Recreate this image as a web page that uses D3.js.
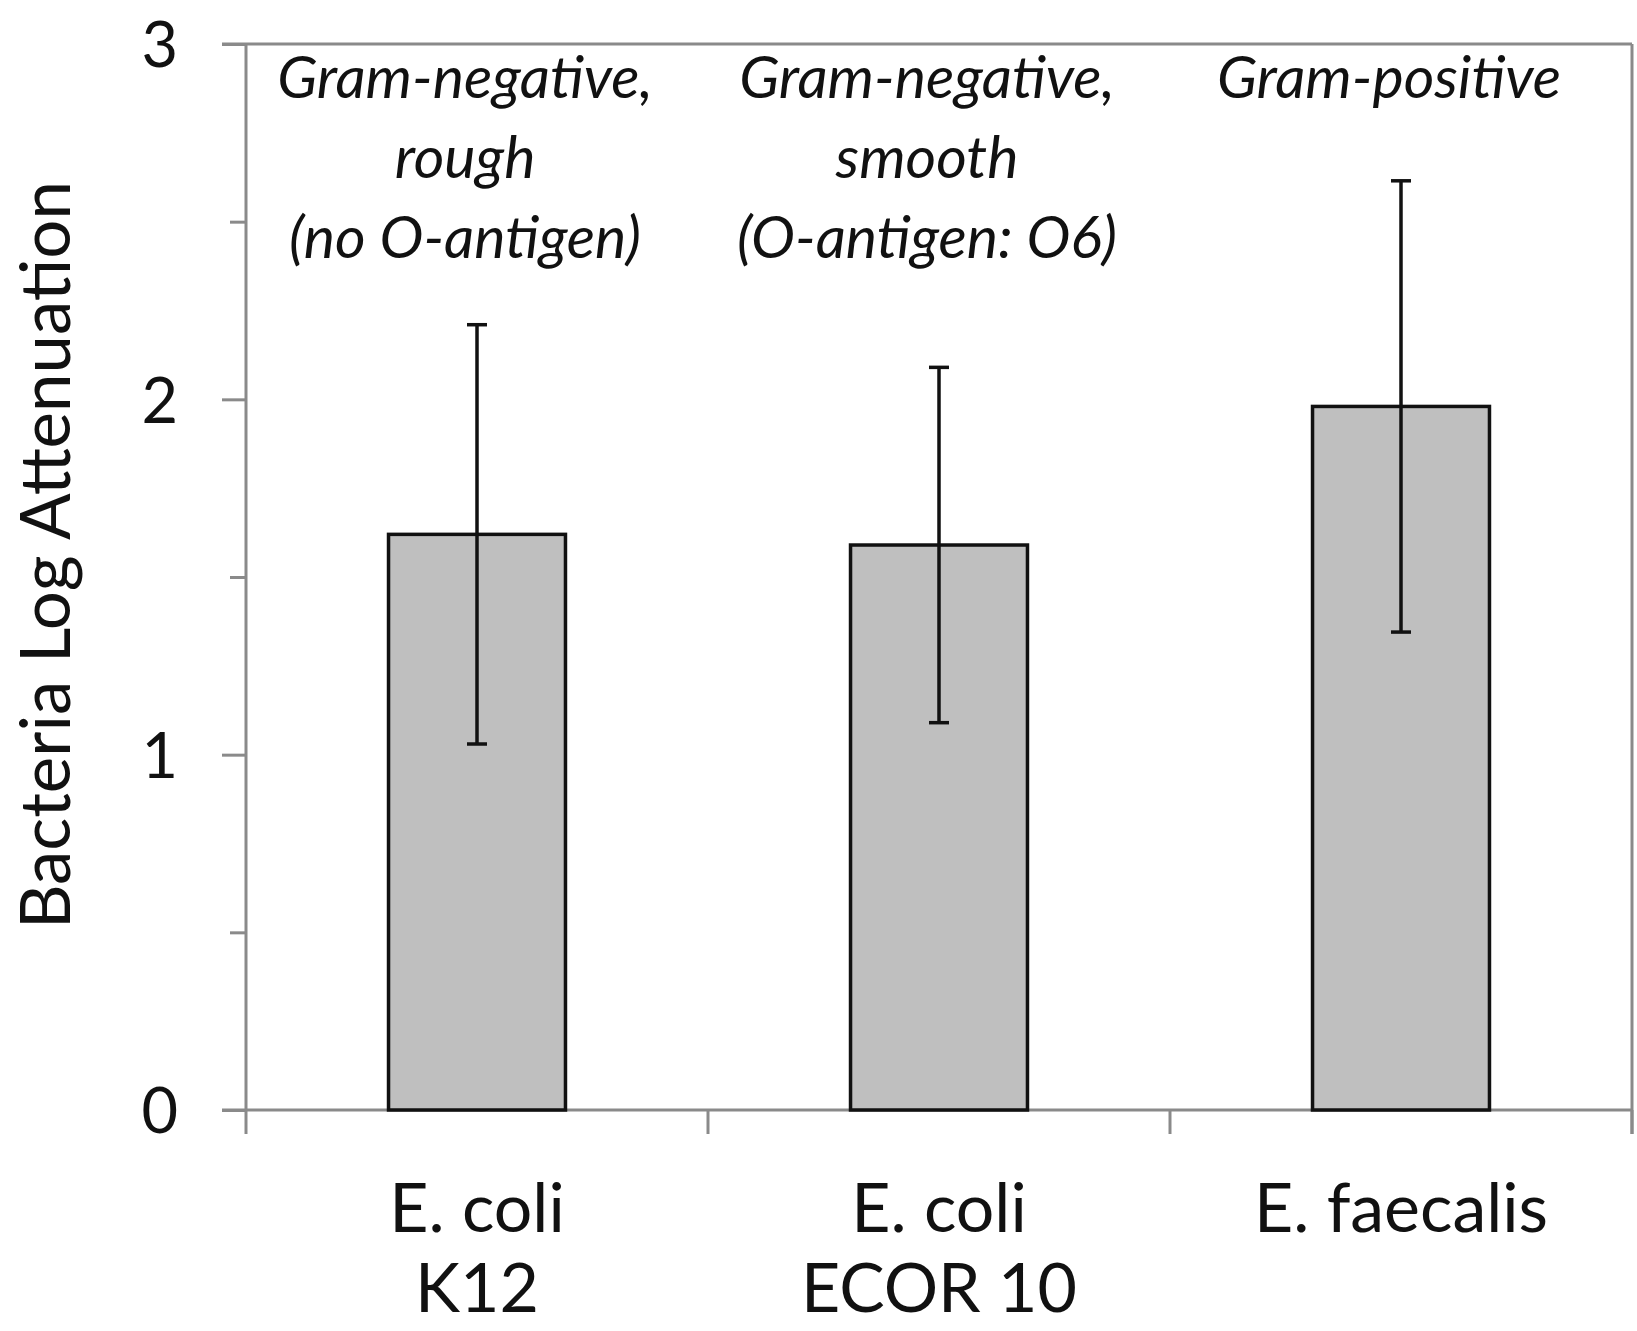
<!DOCTYPE html>
<html>
<head>
<meta charset="utf-8">
<script src="https://cdn.jsdelivr.net/npm/d3@7"></script>
<style>
  body { margin: 0; background: #fff; }
  svg text { font-family: Lato, "Open Sans", sans-serif; fill: #111; }
  .axis path, .axis line { stroke: #8a8a8a; stroke-width: 3; }
</style>
</head>
<body>
<div id="chart"></div>
<script>
// data
var categories = ['E. coli K12', 'E. coli ECOR 10', 'E. faecalis'];
var labelLines = [['E. coli', 'K12'], ['E. coli', 'ECOR 10'], ['E. faecalis']];
var means = [1.62, 1.59, 1.98];
var errors = [0.59, 0.50, 0.635];
var notes = [
  ['Gram-negative,', 'rough', '(no O-antigen)'],
  ['Gram-negative,', 'smooth', '(O-antigen: O6)'],
  ['Gram-positive']
];
var majorTicks = [0, 1, 2, 3];
var minorTicks = [0.5, 1.5, 2.5];

var W = 1637, H = 1331;
var margin = {top: 44, right: 5, bottom: 221, left: 246};
var width = W - margin.left - margin.right;
var height = H - margin.top - margin.bottom;

var svg = d3.select('#chart').append('svg')
  .attr('width', W)
  .attr('height', H);

var g = svg.append('g')
  .attr('transform', 'translate(' + margin.left + ',' + margin.top + ')');

var x = d3.scaleBand()
  .domain(categories)
  .range([0, width])
  .padding(0);

var y = d3.scaleLinear()
  .domain([0, 3])
  .range([height, 0]);

var barW = x.bandwidth() * 0.383;
function cx(d) { return x(d) + x.bandwidth() / 2; }

// frame (top and right)
g.append('line')
  .attr('x1', -24).attr('x2', width)
  .attr('y1', 0).attr('y2', 0)
  .attr('stroke', '#8a8a8a').attr('stroke-width', 3);
g.append('line')
  .attr('x1', width).attr('x2', width)
  .attr('y1', 0).attr('y2', height + 24)
  .attr('stroke', '#8a8a8a').attr('stroke-width', 3);

// y axis: minor ticks first, then major with labels
g.append('g')
  .attr('class', 'axis')
  .call(d3.axisLeft(y).tickValues(minorTicks).tickSize(16).tickFormat(''))
  .call(function(s) { s.select('.domain').remove(); });

var yAxis = g.append('g')
  .attr('class', 'axis')
  .call(d3.axisLeft(y).tickValues(majorTicks).tickSize(24).tickPadding(44)
    .tickFormat(d3.format('d')));
yAxis.select('.domain').attr('d', 'M0,0V' + height);
yAxis.selectAll('text')
  .style('font-size', '63px')
  .attr('dy', '0.36em');

// x axis with ticks at band edges
var xAxis = g.append('g')
  .attr('class', 'axis')
  .attr('transform', 'translate(0,' + height + ')');
xAxis.append('line')
  .attr('x1', -24).attr('x2', width)
  .attr('stroke', '#8a8a8a').attr('stroke-width', 3);
xAxis.selectAll('.edge')
  .data(categories.concat(['end']))
  .enter().append('line')
  .attr('class', 'edge')
  .attr('x1', function(d, i) { return i * x.step(); })
  .attr('x2', function(d, i) { return i * x.step(); })
  .attr('y1', 0).attr('y2', 24);

xAxis.selectAll('.xlabel')
  .data(categories)
  .enter().append('text')
  .attr('class', 'xlabel')
  .attr('text-anchor', 'middle')
  .style('font-size', '68px')
  .selectAll('tspan')
  .data(function(d, i) {
    return labelLines[i].map(function(t) { return {t: t, c: d}; });
  })
  .enter().append('tspan')
  .attr('x', function(d) { return cx(d.c); })
  .attr('y', function(d, j) { return 122 + j * 80; })
  .text(function(d) { return d.t; });

// bars
g.selectAll('.bar')
  .data(categories)
  .enter().append('rect')
  .attr('class', 'bar')
  .attr('x', function(d) { return cx(d) - barW / 2; })
  .attr('width', barW)
  .attr('y', function(d, i) { return y(means[i]); })
  .attr('height', function(d, i) { return height - y(means[i]); })
  .attr('fill', '#bfbfbf')
  .attr('stroke', '#111')
  .attr('stroke-width', 3.5);

// error bars
var eb = g.selectAll('.err')
  .data(categories)
  .enter().append('g')
  .attr('class', 'err')
  .attr('stroke', '#111')
  .attr('stroke-width', 3.5);
eb.append('line')
  .attr('x1', cx).attr('x2', cx)
  .attr('y1', function(d, i) { return y(means[i] + errors[i]); })
  .attr('y2', function(d, i) { return y(means[i] - errors[i]); });
eb.append('line')
  .attr('x1', function(d) { return cx(d) - 10; })
  .attr('x2', function(d) { return cx(d) + 10; })
  .attr('y1', function(d, i) { return y(means[i] + errors[i]); })
  .attr('y2', function(d, i) { return y(means[i] + errors[i]); });
eb.append('line')
  .attr('x1', function(d) { return cx(d) - 10; })
  .attr('x2', function(d) { return cx(d) + 10; })
  .attr('y1', function(d, i) { return y(means[i] - errors[i]); })
  .attr('y2', function(d, i) { return y(means[i] - errors[i]); });

// italic annotations above bars
g.selectAll('.note')
  .data(categories)
  .enter().append('text')
  .attr('class', 'note')
  .attr('text-anchor', 'middle')
  .style('font-size', '59px')
  .style('font-style', 'italic')
  .selectAll('tspan')
  .data(function(d, i) {
    return notes[i].map(function(t) { return {t: t, c: d}; });
  })
  .enter().append('tspan')
  .attr('x', function(d) { return cx(d.c) - 12; })
  .attr('y', function(d, j) { return 54 + j * 80; })
  .text(function(d) { return d.t; });

// y title
svg.append('text')
  .attr('transform', 'translate(70,' + (margin.top + height / 2 - 22) + ') rotate(-90)')
  .attr('text-anchor', 'middle')
  .style('font-size', '69px')
  .text('Bacteria Log Attenuation');
</script>
</body>
</html>
